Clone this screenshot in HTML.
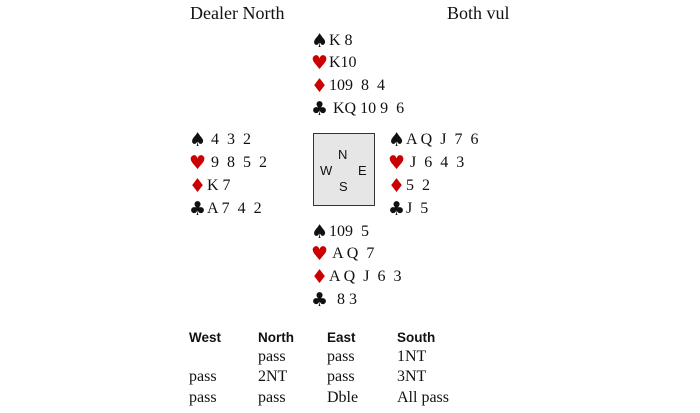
<!DOCTYPE html>
<html><head><meta charset="utf-8"><style>
body{margin:0;width:700px;height:413px;background:#fff;position:relative;overflow:hidden;font-family:"Liberation Serif",serif;color:#111}
.t{position:absolute;font-size:16px;line-height:18px;white-space:pre}
.s{display:inline-block;width:18px;font-size:19px;line-height:18px;vertical-align:top;font-family:"DejaVu Sans",sans-serif}
.r{color:#c00}
.h{position:absolute;font-family:"Liberation Sans",sans-serif;font-weight:bold;font-size:13.5px;line-height:16px}
.box{position:absolute;left:313px;top:133px;width:60px;height:71px;border:1.5px solid #333;background:#e6e6e6}
.c{position:absolute;font-family:"Liberation Sans",sans-serif;font-size:13px;line-height:14px}
</style></head><body>
<div class="t" style="left:190px;top:4px;font-size:18px">Dealer North</div>
<div class="t" style="left:447px;top:4px;font-size:18px">Both vul</div>

<div class="t" style="left:311px;top:32px"><span class="s">♠</span>K 8</div>
<div class="t" style="left:311px;top:54px"><span class="s r">♥</span>K10</div>
<div class="t" style="left:311px;top:77px"><span class="s r">♦</span>109  8  4</div>
<div class="t" style="left:311px;top:100px"><span class="s">♣</span> KQ 10 9  6</div>

<div class="t" style="left:189px;top:131px"><span class="s">♠</span> 4  3  2</div>
<div class="t" style="left:189px;top:154px"><span class="s r">♥</span> 9  8  5  2</div>
<div class="t" style="left:189px;top:177px"><span class="s r">♦</span>K 7</div>
<div class="t" style="left:189px;top:200px"><span class="s">♣</span>A 7  4  2</div>

<div class="t" style="left:388px;top:131px"><span class="s">♠</span>A Q  J  7  6</div>
<div class="t" style="left:388px;top:154px"><span class="s r">♥</span> J  6  4  3</div>
<div class="t" style="left:388px;top:177px"><span class="s r">♦</span>5  2</div>
<div class="t" style="left:388px;top:200px"><span class="s">♣</span>J  5</div>

<div class="box"></div>
<div class="c" style="left:338px;top:148px">N</div>
<div class="c" style="left:320px;top:164px">W</div>
<div class="c" style="left:358px;top:164px">E</div>
<div class="c" style="left:339px;top:180px">S</div>

<div class="t" style="left:311px;top:223px"><span class="s">♠</span>109  5</div>
<div class="t" style="left:311px;top:245px"><span class="s r">♥</span> A Q  7</div>
<div class="t" style="left:311px;top:268px"><span class="s r">♦</span>A Q  J  6  3</div>
<div class="t" style="left:311px;top:291px"><span class="s">♣</span>  8 3</div>

<div class="h" style="left:189px;top:330px">West</div>
<div class="h" style="left:258px;top:330px">North</div>
<div class="h" style="left:327px;top:330px">East</div>
<div class="h" style="left:397px;top:330px">South</div>

<div class="t" style="left:258px;top:348px">pass</div>
<div class="t" style="left:327px;top:348px">pass</div>
<div class="t" style="left:397px;top:348px">1NT</div>
<div class="t" style="left:189px;top:368px">pass</div>
<div class="t" style="left:258px;top:368px">2NT</div>
<div class="t" style="left:327px;top:368px">pass</div>
<div class="t" style="left:397px;top:368px">3NT</div>
<div class="t" style="left:189px;top:389px">pass</div>
<div class="t" style="left:258px;top:389px">pass</div>
<div class="t" style="left:327px;top:389px">Dble</div>
<div class="t" style="left:397px;top:389px">All pass</div>
</body></html>
